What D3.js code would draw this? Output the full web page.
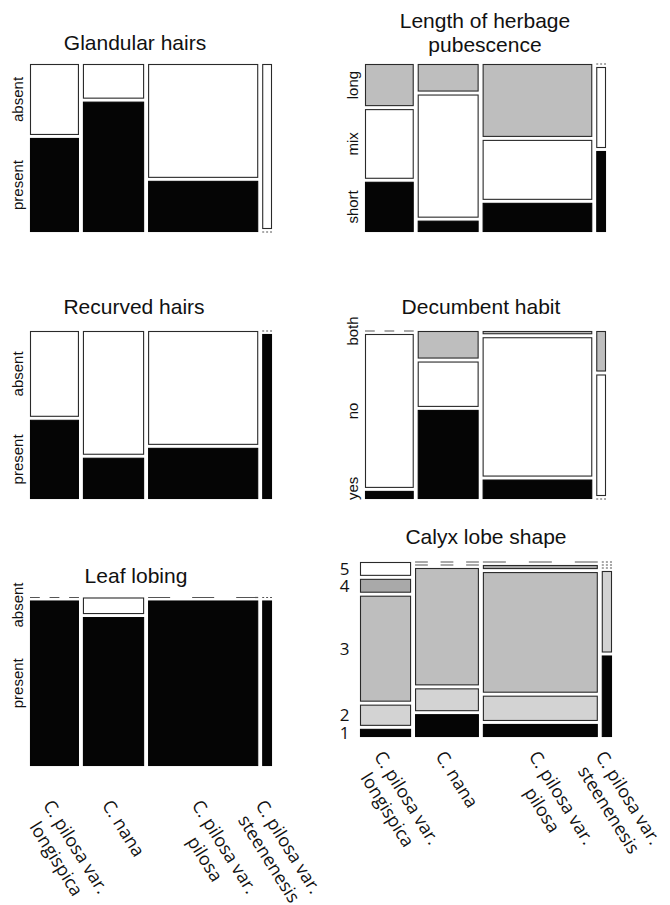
<!DOCTYPE html>
<html>
<head>
<meta charset="utf-8">
<script src="https://cdn.jsdelivr.net/npm/d3@7"></script>
<style>
  html, body { margin: 0; padding: 0; background: #fff; }
  svg { display: block; }
</style>
</head>
<body>
<svg id="chart" width="670" height="905"></svg>
<script>
// Species (mosaic columns), widths proportional to sample counts
const speciesLabels = [
  ["C. pilosa var.", "longispica"],
  ["C. nana"],
  ["C. pilosa var.", "pilosa"],
  ["C. pilosa var.", "steenenesis"]
];
const speciesCounts = [20, 25, 45, 4];

// Shares per level (bottom level first), one value per species
const glandularLevels = ["present", "absent"];
const glandularShares = [
  [0.57, 0.79, 0.31, 0],
  [0.43, 0.21, 0.69, 1]
];

const herbageLevels = ["short", "mix", "long"];
const herbageShares = [
  [0.31, 0.07, 0.18, 0.5],
  [0.43, 0.76, 0.37, 0.5],
  [0.26, 0.17, 0.45, 0]
];

const recurvedLevels = ["present", "absent"];
const recurvedShares = [
  [0.48, 0.25, 0.31, 1],
  [0.52, 0.75, 0.69, 0]
];

const decumbentLevels = ["yes", "no", "both"];
const decumbentShares = [
  [0.05, 0.55, 0.12, 0],
  [0.95, 0.28, 0.86, 0.75],
  [0, 0.17, 0.02, 0.25]
];

const lobingLevels = ["present", "absent"];
const lobingShares = [
  [1, 0.9, 1, 1],
  [0, 0.1, 0, 0]
];

const calyxLevels = ["1", "2", "3", "4", "5"];
const calyxShares = [
  [0.05, 0.14, 0.08, 0.5],
  [0.13, 0.14, 0.155, 0.5],
  [0.65, 0.72, 0.74, 0],
  [0.085, 0, 0.025, 0],
  [0.085, 0, 0, 0]
];

const BLACK = "#050505", WHITE = "#ffffff", GRAY = "#bebebe", LIGHT = "#d3d3d3", DARK = "#a9a9a9";
const GAP_Y = 3, GAP_X = 4;
const SANS = "'Liberation Sans', Arial, Helvetica, sans-serif";
const MYRIAD = "'Open Sans', 'Noto Sans', sans-serif";

const panels = [
  { title: ["Glandular hairs"], levels: glandularLevels, shares: glandularShares, colors: [BLACK, WHITE],
    left: 30, top: 64, width: 242, height: 168, titleX: 135, titleY: 50 },
  { title: ["Length of herbage", "pubescence"], levels: herbageLevels, shares: herbageShares, colors: [BLACK, WHITE, GRAY],
    left: 365, top: 64, width: 241, height: 168, titleX: 485, titleY: 28 },
  { title: ["Recurved hairs"], levels: recurvedLevels, shares: recurvedShares, colors: [BLACK, WHITE],
    left: 30, top: 331, width: 242, height: 168, titleX: 134, titleY: 314 },
  { title: ["Decumbent habit"], levels: decumbentLevels, shares: decumbentShares, colors: [BLACK, WHITE, GRAY],
    left: 365, top: 331, width: 241, height: 168, titleX: 481, titleY: 314 },
  { title: ["Leaf lobing"], levels: lobingLevels, shares: lobingShares, colors: [BLACK, WHITE],
    left: 30, top: 597.5, width: 242, height: 168.5, titleX: 136, titleY: 583, labelsBelow: 805 },
  { title: ["Calyx lobe shape"], levels: calyxLevels, shares: calyxShares, colors: [BLACK, LIGHT, GRAY, DARK, WHITE],
    left: 360, top: 562, width: 252, height: 175, titleX: 486, titleY: 544, digits: true, labelsBelow: 756 }
];

const svg = d3.select("#chart");

function drawPanel(p) {
  const g = svg.append("g");
  const total = d3.sum(speciesCounts);
  const x = d3.scaleLinear()
    .domain([0, total])
    .range([p.left, p.left + p.width - GAP_X * (speciesCounts.length - 1)]);
  const k = p.levels.length;
  const y = d3.scaleLinear()
    .domain([0, 1])
    .range([p.top + p.height, p.top + (k - 1) * GAP_Y]);

  const cells = [];
  const columns = [];
  let cumCount = 0;
  speciesCounts.forEach((n, j) => {
    const x0 = x(cumCount) + j * GAP_X;
    const x1 = x(cumCount + n) + j * GAP_X;
    cumCount += n;
    columns.push({ x0, x1 });
    const colSum = d3.sum(p.shares, (s) => s[j]);
    let cum = 0;
    p.levels.forEach((lev, i) => {
      const v = p.shares[i][j] / colSum;
      cells.push({ j, i, x0, x1, yb: y(cum) - i * GAP_Y, yt: y(cum + v) - i * GAP_Y, v, fill: p.colors[i] });
      cum += v;
    });
  });

  g.selectAll("rect.cell")
    .data(cells.filter((c) => c.v > 0))
    .join("rect")
    .attr("class", "cell")
    .attr("x", (c) => c.x0 + 0.5)
    .attr("y", (c) => c.yt + 0.5)
    .attr("width", (c) => c.x1 - c.x0 - 1)
    .attr("height", (c) => Math.max(0.5, c.yb - c.yt - 1))
    .attr("fill", (c) => c.fill)
    .attr("stroke", (c) => (c.fill === BLACK ? BLACK : "#2a2a2a"))
    .attr("stroke-width", 1.1);

  // empty cells drawn as dashed lines
  g.selectAll("line.empty")
    .data(cells.filter((c) => c.v === 0))
    .join("line")
    .attr("class", "empty")
    .attr("x1", (c) => c.x0)
    .attr("x2", (c) => c.x1)
    .attr("y1", (c) => c.yb)
    .attr("y2", (c) => c.yb)
    .attr("stroke", "#555")
    .attr("stroke-width", 1.2)
    .attr("stroke-dasharray", (c) => `${(c.x1 - c.x0) / 5}`);

  // title
  const t = g.append("text")
    .attr("x", p.titleX)
    .attr("y", p.titleY)
    .attr("text-anchor", "middle")
    .attr("font-family", SANS)
    .attr("font-size", "21px")
    .attr("fill", "#111");
  p.title.forEach((line, i) => {
    t.append("tspan").attr("x", p.titleX).attr("dy", i === 0 ? 0 : 24).text(line);
  });

  // level labels at the centres of the first column
  const first = cells.filter((c) => c.j === 0);
  if (p.digits) {
    g.selectAll("text.lev")
      .data(first)
      .join("text")
      .attr("class", "lev")
      .attr("x", p.left - 10.5)
      .attr("y", (c) => (c.yb + c.yt) / 2)
      .attr("dy", "0.36em")
      .attr("text-anchor", "end")
      .attr("font-family", MYRIAD)
      .attr("font-size", "17px")
      .attr("fill", "#111")
      .text((c) => p.levels[c.i]);
  } else {
    first.forEach((c) => {
      const lab = g.append("text")
        .attr("text-anchor", "middle")
        .attr("font-family", SANS)
        .attr("font-size", "15px")
        .attr("fill", "#111")
        .text(p.levels[c.i]);
      const len = lab.node().getComputedTextLength();
      let cy = (c.yb + c.yt) / 2;
      cy = Math.max(cy, p.top - 15 + len / 2);
      cy = Math.min(cy, p.top + p.height + 1 - len / 2);
      lab.attr("transform", `translate(${p.left - 7},${cy}) rotate(-90)`);
    });
  }

  // species labels under the bottom panels
  if (p.labelsBelow) {
    columns.forEach((col, j) => {
      const cx = (col.x0 + col.x1) / 2;
      const lg = g.append("g")
        .attr("transform", `translate(${cx - 12},${p.labelsBelow}) rotate(58)`)
        .attr("font-family", MYRIAD)
        .attr("font-size", "18px")
        .attr("fill", "#111");
      const lines = speciesLabels[j];
      const l1 = lg.append("text").attr("x", 0).attr("y", 0).text(lines[0]);
      const w1 = l1.node().getComputedTextLength();
      lines.slice(1).forEach((line, i) => {
        lg.append("text")
          .attr("x", w1 / 2)
          .attr("y", 23 * (i + 1))
          .attr("text-anchor", "middle")
          .text(line);
      });
    });
  }
}

panels.forEach(drawPanel);
</script>
</body>
</html>
